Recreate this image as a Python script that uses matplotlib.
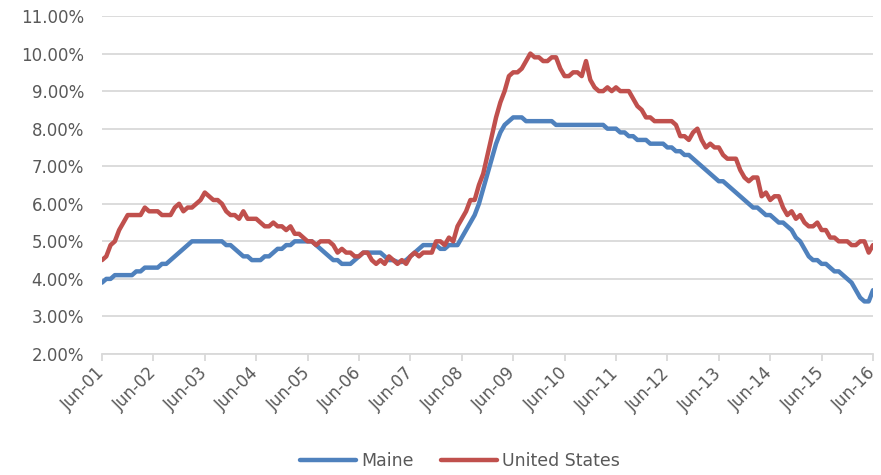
import numpy as np
import matplotlib
matplotlib.use("Agg")
import matplotlib.pyplot as plt
from matplotlib.ticker import FuncFormatter

# monthly unemployment rate (%), Jun 2001 - Jun 2016
maine = [3.9, 4.0, 4.0, 4.1, 4.1, 4.1, 4.1, 4.1, 4.2, 4.2, 4.3, 4.3,   # Jun01-May02
         4.3, 4.3, 4.4, 4.4, 4.5, 4.6, 4.7, 4.8, 4.9, 5.0, 5.0, 5.0,   # Jun02-May03
         5.0, 5.0, 5.0, 5.0, 5.0, 4.9, 4.9, 4.8, 4.7, 4.6, 4.6, 4.5,   # Jun03-May04
         4.5, 4.5, 4.6, 4.6, 4.7, 4.8, 4.8, 4.9, 4.9, 5.0, 5.0, 5.0,   # Jun04-May05
         5.0, 5.0, 4.9, 4.8, 4.7, 4.6, 4.5, 4.5, 4.4, 4.4, 4.4, 4.5,   # Jun05-May06
         4.6, 4.7, 4.7, 4.7, 4.7, 4.7, 4.6, 4.5, 4.5, 4.45, 4.45, 4.5, # Jun06-May07
         4.6, 4.7, 4.8, 4.9, 4.9, 4.9, 4.9, 4.8, 4.8, 4.9, 4.9, 4.9,   # Jun07-May08
         5.1, 5.3, 5.5, 5.7, 6.0, 6.4, 6.8, 7.2, 7.6, 7.9, 8.1, 8.2,   # Jun08-May09
         8.3, 8.3, 8.3, 8.2, 8.2, 8.2, 8.2, 8.2, 8.2, 8.2, 8.1, 8.1,   # Jun09-May10
         8.1, 8.1, 8.1, 8.1, 8.1, 8.1, 8.1, 8.1, 8.1, 8.1, 8.0, 8.0,   # Jun10-May11
         8.0, 7.9, 7.9, 7.8, 7.8, 7.7, 7.7, 7.7, 7.6, 7.6, 7.6, 7.6,   # Jun11-May12
         7.5, 7.5, 7.4, 7.4, 7.3, 7.3, 7.2, 7.1, 7.0, 6.9, 6.8, 6.7,   # Jun12-May13
         6.6, 6.6, 6.5, 6.4, 6.3, 6.2, 6.1, 6.0, 5.9, 5.9, 5.8, 5.7,   # Jun13-May14
         5.7, 5.6, 5.5, 5.5, 5.4, 5.3, 5.1, 5.0, 4.8, 4.6, 4.5, 4.5,   # Jun14-May15
         4.4, 4.4, 4.3, 4.2, 4.2, 4.1, 4.0, 3.9, 3.7, 3.5, 3.4, 3.4,   # Jun15-May16
         3.7]                                                          # Jun16

us = [4.5, 4.6, 4.9, 5.0, 5.3, 5.5, 5.7,
      5.7, 5.7, 5.7, 5.9, 5.8, 5.8, 5.8, 5.7, 5.7, 5.7, 5.9, 6.0,
      5.8, 5.9, 5.9, 6.0, 6.1, 6.3, 6.2, 6.1, 6.1, 6.0, 5.8, 5.7,
      5.7, 5.6, 5.8, 5.6, 5.6, 5.6, 5.5, 5.4, 5.4, 5.5, 5.4, 5.4,
      5.3, 5.4, 5.2, 5.2, 5.1, 5.0, 5.0, 4.9, 5.0, 5.0, 5.0, 4.9,
      4.7, 4.8, 4.7, 4.7, 4.6, 4.6, 4.7, 4.7, 4.5, 4.4, 4.5, 4.4,
      4.6, 4.5, 4.4, 4.5, 4.4, 4.6, 4.7, 4.6, 4.7, 4.7, 4.7, 5.0,
      5.0, 4.9, 5.1, 5.0, 5.4, 5.6, 5.8, 6.1, 6.1, 6.5, 6.8, 7.3,
      7.8, 8.3, 8.7, 9.0, 9.4, 9.5, 9.5, 9.6, 9.8, 10.0, 9.9, 9.9,
      9.8, 9.8, 9.9, 9.9, 9.6, 9.4, 9.4, 9.5, 9.5, 9.4, 9.8, 9.3,
      9.1, 9.0, 9.0, 9.1, 9.0, 9.1, 9.0, 9.0, 9.0, 8.8, 8.6, 8.5,
      8.3, 8.3, 8.2, 8.2, 8.2, 8.2, 8.2, 8.1, 7.8, 7.8, 7.7, 7.9,
      8.0, 7.7, 7.5, 7.6, 7.5, 7.5, 7.3, 7.2, 7.2, 7.2, 6.9, 6.7,
      6.6, 6.7, 6.7, 6.2, 6.3, 6.1, 6.2, 6.2, 5.9, 5.7, 5.8, 5.6,
      5.7, 5.5, 5.4, 5.4, 5.5, 5.3, 5.3, 5.1, 5.1, 5.0, 5.0, 5.0,
      4.9, 4.9, 5.0, 5.0, 4.7, 4.9]

tick_labels = ["Jun-%02d" % y for y in range(1, 17)]

months = np.arange(len(maine))

fig = plt.figure(figsize=(8.81, 4.75), dpi=100)
ax = fig.add_axes([102/881, 1 - 354/475, 771/881, 338/475])

ax.plot(months, maine, color="#4F81BD", lw=3.2, solid_capstyle="round",
        solid_joinstyle="round", label="Maine", zorder=3)
ax.plot(months, us, color="#C0504D", lw=3.2, solid_capstyle="round",
        solid_joinstyle="round", label="United States", zorder=4)

ax.set_xlim(0, 180)
ax.set_ylim(2, 11)
ax.set_yticks(np.arange(2, 11.5, 1))
ax.yaxis.set_major_formatter(FuncFormatter(lambda v, p: "%.2f%%" % v))
ax.grid(axis="y", color="#D9D9D9", lw=1.3)
ax.set_axisbelow(True)

ax.set_xticks(np.arange(0, 181, 12))
ax.set_xticklabels(tick_labels, rotation=45, ha="right", va="center",
                   rotation_mode="anchor")

for s in ["top", "right", "left"]:
    ax.spines[s].set_visible(False)
ax.spines["bottom"].set_color("#D9D9D9")
ax.spines["bottom"].set_linewidth(1.3)
ax.tick_params(axis="y", length=0, pad=13, labelsize=12, labelcolor="#595959")
ax.tick_params(axis="x", length=5, width=1.3, color="#D9D9D9", pad=7,
               labelsize=12, labelcolor="#595959")

fig.legend(loc="lower center", bbox_to_anchor=(460/881, -0.022), ncol=2,
           frameon=False, fontsize=12.5, labelcolor="#595959",
           handlelength=3.2, handletextpad=0.3, columnspacing=1.6)

fig.savefig("out.png", dpi=100)
